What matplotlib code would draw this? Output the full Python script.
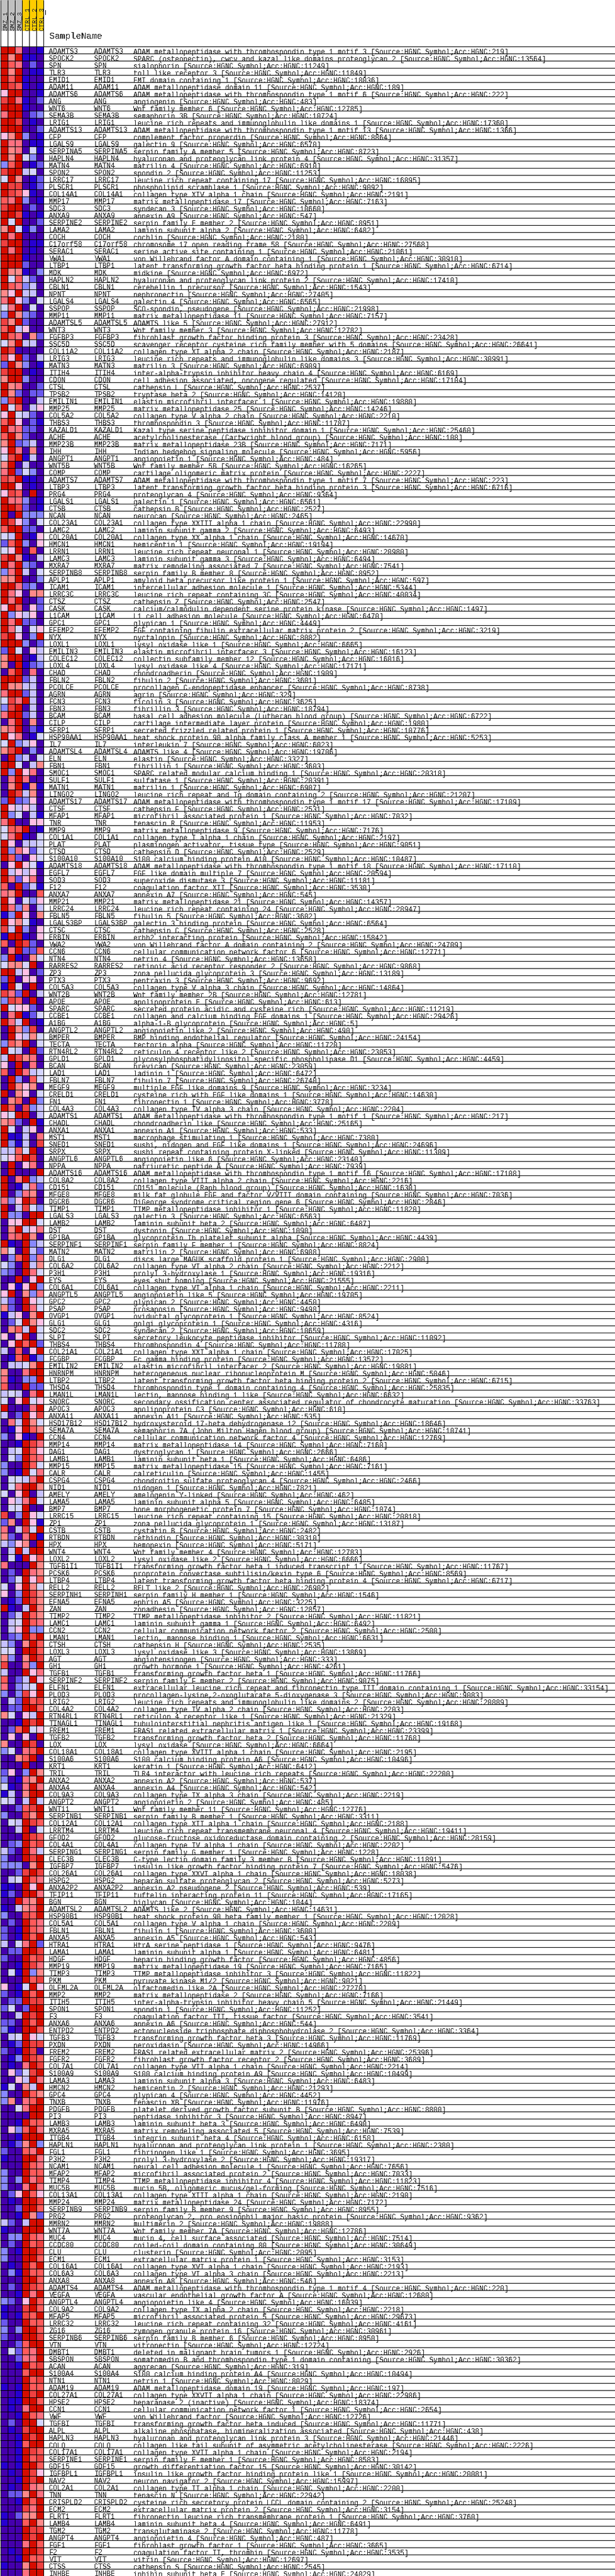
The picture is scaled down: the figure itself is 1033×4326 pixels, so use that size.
import numpy as np
import matplotlib
matplotlib.use("Agg")
import matplotlib.pyplot as plt
from matplotlib.colors import ListedColormap

samples = ["SMZ_1", "SMZ_2", "SMZ_3", "CTRL_1", "CTRL_2", "CTRL_3"]
sample_colors = ["#c0c0c0", "#c0c0c0", "#c0c0c0", "#ffcc00", "#ffcc00", "#ffcc00"]
palette = ["#4500ad", "#2700d1", "#6b58ef", "#8888ff", "#c7c1ff", "#d5d5ff",
           "#ffc0e5", "#ff8989", "#ff7080", "#ff5a5a", "#ef4040", "#d60c00"]

genes = """ADAMTS3 SPOCK2 SPN TLR3 EMID1 ADAM11 ADAMTS6 ANG WNT6 SEMA3B LRIG1 ADAMTS13 CFP LGALS9 SERPINA5 HAPLN4 MATN4 SPON2 LRRC17 PLSCR1 COL14A1 MMP17 SDC3 ANXA9 SERPINE2 LAMA2
COCH C17orf58 SERAC1 VWA1 LTBP1 MDK HAPLN2 CBLN1 NPNT LGALS4 SSPOP MMP11 ADAMTSL5 WNT3 FGFBP3 SSC5D COL11A2 LRIG3 MATN3 ITIH4 CDON CTSL TPSB2 EMILIN1 MMP25 COL5A2 THBS3 KAZALD1 ACHE MMP23B IHH ANGPT1 WNT5B COMP ADAMTS7
LTBP3 PRG4 LGALS1 CTSB NCAN COL23A1 LAMC2 COL20A1 HMCN1 LRRN1 LAMC3 MXRA7 SERPINB8 APLP1 ICAM1 LRRC3C CTSZ CASK L1CAM GPC1 EFEMP2 NYX LOXL1 EMILIN3 COLEC12 LOXL4 CHAD FBLN2 PCOLCE AGRN FCN3 FBN3 BCAM CILP SFRP1 HSP90AA1 IL7
ADAMTSL4 ELN FBN1 SMOC1 SULF1 MATN1 LINGO2 ADAMTS17 CTSF MFAP1 TNR MMP9 COL1A1 PLAT CTSD S100A10 ADAMTS18 EGFL7 SOD3 F12 ANXA7 MMP21 LRRC24 FBLN5 LGALS3BP CTSC ERBIN VWA2 CCN6 NTN4 RARRES2 ZP3 PTX3 COL5A3 WNT2B APOE
SPARC CCBE1 A1BG ANGPTL2 BMPER TECTA RTN4RL2 GPLD1 BCAN LAD1 FBLN7 MEGF9 CRELD1 FN1 COL4A3 ADAMTS1 CHADL ANXA1 MST1 SNED1 SRPX ANGPTL6 NPPA ADAMTS16 COL8A2 CD151 MFGE8 DGCR6 TIMP1 LGALS3 LAMB2 DST GP1BA SERPINF1 MATN2 DLG1 COL6A2
P3H1 EYS COL6A1 ANGPTL5 GPC2 PSAP OVGP1 GLG1 SDC2 SLPI THBS4 COL21A1 FCGBP EMILIN2 HNRNPM LTBP2 THSD4 LMAN1L SNORC APOC3 ANXA11 HSD17B12 SEMA7A CCN4 MMP14 DAG1 LAMB1 MMP15 CALR CSPG4 NID1 AMELY LAMA5 BMP7 LRRC15 ZP1
CSTB RTBDN HPX WNT4 LOXL2 TGFB1I1 PCSK6 LTBP4 RELL2 SERPINH1 EFNA5 ZAN TIMP2 LAMC1 CCN2 LMAN1 CTSH LOXL3 AGT GH1 TGFB1 SERPINF2 ELFN1 PLOD3 LRIG2 COL4A2 RTN4RL1 TINAGL1 FREM1 TGFB2 LOX COL18A1 S100A6 KRT1 TRIL ANXA2 ANXA4
COL9A3 ANGPT2 WNT11 SERPINB1 COL12A1 LRRTM4 GFOD2 COL4A1 SERPING1 CLEC3B IGFBP7 COL26A1 HSPG2 ANXA2P2 TFIP11 BGN ADAMTSL2 HSP90B1 COL5A1 FBLN1 ANXA5 HTRA1 LAMA1 HDGF MMP19 TIMP3 PKM OLFML2A MMP2 ITIH5 SPON1 F3 ANXA6 ENTPD2 TGFB3 PXDN
FREM2 FGFR2 COL7A1 S100A9 LAMA3 HMCN2 GPC4 TNXB PDGFB PI3 LAMB3 MXRA5 ITGB4 HAPLN1 FGL1 P3H2 NCAM1 MFAP2 TIMP4 MUC5B COL13A1 MMP24 SERPINB9 PRG2 MMRN2 WNT7A MUC4 CCDC80 CLU ECM1 COL16A1 COL6A3 ANXA8 ADAMTS4 VEGFA ANGPTL4 COL9A2
MFAP5 LRRC32 ZG16 SERPINB6 VTN DMBT1 SBSPON ACAN S100A4 NTN1 ADAM19 COL27A1 HPSE2 CCN1 VWF TGFBI ALPL HAPLN3 COLQ COL17A1 SERPINE1 GDF15 IGFBPL1 NAV2 COL2A1 TNN CRISPLD2 ECM2 FLRT1 LAMB4 TGM2 ANGPT4 FGF1 F2 VIT CTSS INHBE""".split()

hgnc_ids = """219 13564 11249 11849 18036 189 222 483 12785 10724 17360 1366 8864 6570 8723 31357 6910 11253 16895 9092 2191 7163 10660 547 8951 6482
2180 27568 21061 30910 6714 6972 17410 1543 27405 6565 21998 7157 27912 12782 23428 26641 2187 30991 6909 6169 17104 2537 14120 19880 14246 2210 11787 25460 108 7171 5956 484 16265 2227 223
6716 9364 6561 2527 2465 22990 6493 14670 19194 20980 6494 7541 8952 597 5344 40034 2547 1497 6470 4449 3219 8082 6665 16123 16016 17171 1909 3601 8738 329 3625 18794 6722 1980 10776 5253 6023
19706 3327 3603 20318 20391 6907 21207 17109 2531 7032 11953 7176 2197 9051 2529 10487 17110 20594 11181 3530 545 14357 28947 3602 6564 2528 15842 24709 12771 13658 9868 13189 9692 14864 12781 613
11219 29426 5 490 24154 11720 23053 4459 23059 6472 26740 3234 14630 3778 2204 217 25165 533 7380 24696 11309 23140 7939 17108 2216 1630 7036 2846 11820 6563 6487 1090 4439 8824 6908 2900 2212
19316 21555 2211 19705 4450 9498 8524 4316 10659 11092 11788 17025 13572 19881 5046 6715 25835 6632 33763 610 535 18646 10741 12769 7160 2666 6486 7161 1455 2466 7821 462 6485 1074 20818 13187
2482 30310 5171 12783 6666 11767 8569 6717 26902 1546 3225 12857 11821 6492 2500 6631 2535 13869 333 4261 11766 9075 33154 9083 20889 2203 21329 19168 23399 11768 6664 2195 10496 6412 22200 537 542
2219 485 12776 3311 2188 19411 28159 2202 1228 11891 5476 18038 5273 539 17165 1044 14631 12028 2209 3600 543 9476 6481 4856 7165 11822 9021 27270 7166 21449 11252 3541 544 3364 11769 14966
25396 3689 2214 10499 6483 21293 4452 11976 8800 8947 6490 7539 6158 2380 3695 19317 7656 7033 11823 7516 2190 7172 8955 9362 19888 12786 7514 30649 2095 3153 2193 2213 546 220 12680 16039 2218
29673 4161 30961 8950 12724 2926 30362 319 10494 8029 197 22986 18374 2654 12726 11771 438 21446 2226 2194 8583 30142 20081 15997 2200 22942 25248 3154 3760 6491 11778 487 3665 3535 12697 2545 24029""".split()

descriptions = [
    "ADAM metallopeptidase with thrombospondin type 1 motif 3", "SPARC (osteonectin), cwcv and kazal like domains proteoglycan 2",
    "sialophorin", "toll like receptor 3", "EMI domain containing 1", "ADAM metallopeptidase domain 11",
    "ADAM metallopeptidase with thrombospondin type 1 motif 6", "angiogenin", "Wnt family member 6", "semaphorin 3B",
    "leucine rich repeats and immunoglobulin like domains 1", "ADAM metallopeptidase with thrombospondin type 1 motif 13",
    "complement factor properdin", "galectin 9", "serpin family A member 5", "hyaluronan and proteoglycan link protein 4",
    "matrilin 4", "spondin 2", "leucine rich repeat containing 17", "phospholipid scramblase 1", "collagen type XIV alpha 1 chain",
    "matrix metallopeptidase 17", "syndecan 3", "annexin A9", "serpin family E member 2", "laminin subunit alpha 2",

    "cochlin", "chromosome 17 open reading frame 58", "serine active site containing 1", "von Willebrand factor A domain containing 1",
    "latent transforming growth factor beta binding protein 1", "midkine", "hyaluronan and proteoglycan link protein 2",
    "cerebellin 1 precursor", "nephronectin", "galectin 4", "SCO-spondin, pseudogene", "matrix metallopeptidase 11", "ADAMTS like 5",
    "Wnt family member 3", "fibroblast growth factor binding protein 3", "scavenger receptor cysteine rich family member with 5 domains",
    "collagen type XI alpha 2 chain", "leucine rich repeats and immunoglobulin like domains 3", "matrilin 3",
    "inter-alpha-trypsin inhibitor heavy chain 4", "cell adhesion associated, oncogene regulated", "cathepsin L", "tryptase beta 2",
    "elastin microfibril interfacer 1", "matrix metallopeptidase 25", "collagen type V alpha 2 chain", "thrombospondin 3",
    "Kazal type serine peptidase inhibitor domain 1", "acetylcholinesterase (Cartwright blood group)", "matrix metallopeptidase 23B",
    "Indian hedgehog signaling molecule", "angiopoietin 1", "Wnt family member 5B", "cartilage oligomeric matrix protein",
    "ADAM metallopeptidase with thrombospondin type 1 motif 7",

    "latent transforming growth factor beta binding protein 3", "proteoglycan 4", "galectin 1", "cathepsin B", "neurocan",
    "collagen type XXIII alpha 1 chain", "laminin subunit gamma 2", "collagen type XX alpha 1 chain", "hemicentin 1",
    "leucine rich repeat neuronal 1", "laminin subunit gamma 3", "matrix remodeling associated 7", "serpin family B member 8",
    "amyloid beta precursor like protein 1", "intercellular adhesion molecule 1", "leucine rich repeat containing 3C", "cathepsin Z",
    "calcium/calmodulin dependent serine protein kinase", "L1 cell adhesion molecule", "glypican 1",
    "EGF containing fibulin extracellular matrix protein 2", "nyctalopin", "lysyl oxidase like 1", "elastin microfibril interfacer 3",
    "collectin subfamily member 12", "lysyl oxidase like 4", "chondroadherin", "fibulin 2", "procollagen C-endopeptidase enhancer",
    "agrin", "ficolin 3", "fibrillin 3", "basal cell adhesion molecule (Lutheran blood group)", "cartilage intermediate layer protein",
    "secreted frizzled related protein 1", "heat shock protein 90 alpha family class A member 1", "interleukin 7",

    "ADAMTS like 4", "elastin", "fibrillin 1", "SPARC related modular calcium binding 1", "sulfatase 1", "matrilin 1",
    "leucine rich repeat and Ig domain containing 2", "ADAM metallopeptidase with thrombospondin type 1 motif 17", "cathepsin F",
    "microfibril associated protein 1", "tenascin R", "matrix metallopeptidase 9", "collagen type I alpha 1 chain",
    "plasminogen activator, tissue type", "cathepsin D", "S100 calcium binding protein A10",
    "ADAM metallopeptidase with thrombospondin type 1 motif 18", "EGF like domain multiple 7", "superoxide dismutase 3",
    "coagulation factor XII", "annexin A7", "matrix metallopeptidase 21", "leucine rich repeat containing 24", "fibulin 5",
    "galectin 3 binding protein", "cathepsin C", "erbb2 interacting protein", "von Willebrand factor A domain containing 2",
    "cellular communication network factor 6", "netrin 4", "retinoic acid receptor responder 2", "zona pellucida glycoprotein 3",
    "pentraxin 3", "collagen type V alpha 3 chain", "Wnt family member 2B", "apolipoprotein E",

    "secreted protein acidic and cysteine rich", "collagen and calcium binding EGF domains 1", "alpha-1-B glycoprotein",
    "angiopoietin like 2", "BMP binding endothelial regulator", "tectorin alpha", "reticulon 4 receptor like 2",
    "glycosylphosphatidylinositol specific phospholipase D1", "brevican", "ladinin 1", "fibulin 7", "multiple EGF like domains 9",
    "cysteine rich with EGF like domains 1", "fibronectin 1", "collagen type IV alpha 3 chain",
    "ADAM metallopeptidase with thrombospondin type 1 motif 1", "chondroadherin like", "annexin A1", "macrophage stimulating 1",
    "sushi, nidogen and EGF like domains 1", "sushi repeat containing protein X-linked", "angiopoietin like 6", "natriuretic peptide A",
    "ADAM metallopeptidase with thrombospondin type 1 motif 16", "collagen type VIII alpha 2 chain", "CD151 molecule (Raph blood group)",
    "milk fat globule EGF and factor V/VIII domain containing", "DiGeorge syndrome critical region gene 6",
    "TIMP metallopeptidase inhibitor 1", "galectin 3", "laminin subunit beta 2", "dystonin", "glycoprotein Ib platelet subunit alpha",
    "serpin family F member 1", "matrilin 2", "discs large MAGUK scaffold protein 1", "collagen type VI alpha 2 chain",

    "prolyl 3-hydroxylase 1", "eyes shut homolog", "collagen type VI alpha 1 chain", "angiopoietin like 5", "glypican 2", "prosaposin",
    "oviductal glycoprotein 1", "golgi glycoprotein 1", "syndecan 2", "secretory leukocyte peptidase inhibitor", "thrombospondin 4",
    "collagen type XXI alpha 1 chain", "Fc gamma binding protein", "elastin microfibril interfacer 2",
    "heterogeneous nuclear ribonucleoprotein M", "latent transforming growth factor beta binding protein 2",
    "thrombospondin type 1 domain containing 4", "lectin, mannose binding 1 like",
    "secondary ossification center associated regulator of chondrocyte maturation", "apolipoprotein C3", "annexin A11",
    "hydroxysteroid 17-beta dehydrogenase 12", "semaphorin 7A (John Milton Hagen blood group)",
    "cellular communication network factor 4", "matrix metallopeptidase 14", "dystroglycan 1", "laminin subunit beta 1",
    "matrix metallopeptidase 15", "calreticulin", "chondroitin sulfate proteoglycan 4", "nidogen 1", "amelogenin Y-linked",
    "laminin subunit alpha 5", "bone morphogenetic protein 7", "leucine rich repeat containing 15", "zona pellucida glycoprotein 1",

    "cystatin B", "retbindin", "hemopexin", "Wnt family member 4", "lysyl oxidase like 2", "transforming growth factor beta 1 induced transcript 1",
    "proprotein convertase subtilisin/kexin type 6", "latent transforming growth factor beta binding protein 4", "RELT like 2",
    "serpin family H member 1", "ephrin A5", "zonadhesin", "TIMP metallopeptidase inhibitor 2", "laminin subunit gamma 1",
    "cellular communication network factor 2", "lectin, mannose binding 1", "cathepsin H", "lysyl oxidase like 3", "angiotensinogen",
    "growth hormone 1", "transforming growth factor beta 1", "serpin family F member 2",
    "extracellular leucine rich repeat and fibronectin type III domain containing 1",
    "procollagen-lysine,2-oxoglutarate 5-dioxygenase 3", "leucine rich repeats and immunoglobulin like domains 2",
    "collagen type IV alpha 2 chain", "reticulon 4 receptor like 1", "tubulointerstitial nephritis antigen like 1",
    "FRAS1 related extracellular matrix 1", "transforming growth factor beta 2", "lysyl oxidase", "collagen type XVIII alpha 1 chain",
    "S100 calcium binding protein A6", "keratin 1", "TLR4 interactor with leucine rich repeats", "annexin A2", "annexin A4",

    "collagen type IX alpha 3 chain", "angiopoietin 2", "Wnt family member 11", "serpin family B member 1", "collagen type XII alpha 1 chain",
    "leucine rich repeat transmembrane neuronal 4", "glucose-fructose oxidoreductase domain containing 2", "collagen type IV alpha 1 chain",
    "serpin family G member 1", "C-type lectin domain family 3 member B", "insulin like growth factor binding protein 7",
    "collagen type XXVI alpha 1 chain", "heparan sulfate proteoglycan 2", "annexin A2 pseudogene 2", "tuftelin interacting protein 11",
    "biglycan", "ADAMTS like 2", "heat shock protein 90 beta family member 1", "collagen type V alpha 1 chain", "fibulin 1", "annexin A5",
    "HtrA serine peptidase 1", "laminin subunit alpha 1", "heparin binding growth factor", "matrix metallopeptidase 19",
    "TIMP metallopeptidase inhibitor 3", "pyruvate kinase M1/2", "olfactomedin like 2A", "matrix metallopeptidase 2",
    "inter-alpha-trypsin inhibitor heavy chain 5", "spondin 1", "coagulation factor III, tissue factor", "annexin A6",
    "ectonucleoside triphosphate diphosphohydrolase 2", "transforming growth factor beta 3", "peroxidasin",

    "FRAS1 related extracellular matrix 2", "fibroblast growth factor receptor 2", "collagen type VII alpha 1 chain",
    "S100 calcium binding protein A9", "laminin subunit alpha 3", "hemicentin 2", "glypican 4", "tenascin XB",
    "platelet derived growth factor subunit B", "peptidase inhibitor 3", "laminin subunit beta 3", "matrix remodeling associated 5",
    "integrin subunit beta 4", "hyaluronan and proteoglycan link protein 1", "fibrinogen like 1", "prolyl 3-hydroxylase 2",
    "neural cell adhesion molecule 1", "microfibril associated protein 2", "TIMP metallopeptidase inhibitor 4",
    "mucin 5B, oligomeric mucus/gel-forming", "collagen type XIII alpha 1 chain", "matrix metallopeptidase 24", "serpin family B member 9",
    "proteoglycan 2, pro eosinophil major basic protein", "multimerin 2", "Wnt family member 7A", "mucin 4, cell surface associated",
    "coiled-coil domain containing 80", "clusterin", "extracellular matrix protein 1", "collagen type XVI alpha 1 chain",
    "collagen type VI alpha 3 chain", "annexin A8", "ADAM metallopeptidase with thrombospondin type 1 motif 4",
    "vascular endothelial growth factor A", "angiopoietin like 4", "collagen type IX alpha 2 chain",

    "microfibril associated protein 5", "leucine rich repeat containing 32", "zymogen granule protein 16", "serpin family B member 6",
    "vitronectin", "deleted in malignant brain tumors 1", "somatomedin B and thrombospondin type 1 domain containing", "aggrecan",
    "S100 calcium binding protein A4", "netrin 1", "ADAM metallopeptidase domain 19", "collagen type XXVII alpha 1 chain",
    "heparanase 2 (inactive)", "cellular communication network factor 1", "von Willebrand factor",
    "transforming growth factor beta induced", "alkaline phosphatase, biomineralization associated",
    "hyaluronan and proteoglycan link protein 3", "collagen like tail subunit of asymmetric acetylcholinesterase",
    "collagen type XVII alpha 1 chain", "serpin family E member 1", "growth differentiation factor 15",
    "insulin like growth factor binding protein like 1", "neuron navigator 2", "collagen type II alpha 1 chain", "tenascin N",
    "cysteine rich secretory protein LCCL domain containing 2", "extracellular matrix protein 2",
    "fibronectin leucine rich transmembrane protein 1", "laminin subunit beta 4", "transglutaminase 2", "angiopoietin 4",
    "fibroblast growth factor 1", "coagulation factor II, thrombin", "vitrin", "cathepsin S", "inhibin subunit beta E",
]

# one word per gene, one base-12 digit per sample (index into palette)
levels = """bb8001 b7b110 b98020 b7b011 b9b100 ba9101 6bb001 ab8102 bbb100 8bb023 bba010 bbb002 67b301 b88011 b78051 b7b530 39b012 abb450 5b7012 baa012 ba9610 98b301 abb020 bba101 b5b002 7b5130
b8b000 abb011 b8b010 bbb100 bbb200 b77103 b59420 b98340 76b440 8b6305 58b050 3b7320 a7b200 9b4600 b98072 57b440 ba0000 a6b204 2b7301 abb010 7bb300 b78002 b72022 3ab004 b59046 6b5420 9b6021 b88220 9b7200 7b2340 6b8070 5ab140 7b0400 8b2530 a9b110
bb6010 6a90b0 b88301 bba201 b0b333 ba6305 9bb220 54b016 29b306 56b090 ab7104 b8b320 38b405 77b003 bb8230 b86077 b8b002 6b9062 b36460 b8b220 b85056 ab603b bbb302 2b5064 7bb014 70b123 09b080 bbb240 b77440 8bb240 5a8b40 3ab040 8bb240 08b070 78b021 b68015 5b3460
7ab030 0b3405 bb5047 b3b680 08b800 07b171 0ba470 2b2360 b64640 b35041 8b0066 599b01 58b105 b60445 b38625 b92065 06b651 b46460 b82680 90b241 87b009 b60536 b83704 13b607 b67510 a4b306 1bb106 90ba20 08b229 3b1075 5775b0 bb4602 2b0660 1b50b0 a82b04 3a90b0
b56620 08b125 b84b01 0b73a0 0b6475 397b05 b540b2 4ba780 60b080 90b845 0b3095 0b7670 b07605 0790b3 b90a34 65bb04 7820b1 b50460 b11408 b3140a 4495b0 569ba0 0b0680 0b000b b08b34 b01482 b03870 836ba0 b04a53 b330bb 066bb5 07b468 089b70 b10b34 750b42 039b38 530b47
320b85 00b06b 0616b3 6b0738 420b65 720b85 14607b 025b76 0794b5 606b05 06b9b2 40906b 019b13 04457b 7008bb 81033b 900b22 45408b 506b56 b0008b 402b6a 084b75 016b97 30610b 001ba8 045b96 053b98 300b95 301b58 05548b 058bb7 506b04 0648b5 055b00 a03b65 270b61
804a5b 7208b1 43670b 04b4bb 051b69 8000b7 020b87 025b69 506b75 603ba7 012ba7 b104b7 024b97 045b98 046b33 023b9b 4307b9 550bb9 7307ba a0083b 400b68 9024b6 80345b 303a6b 042b9a 022bb9 75064b 001bab 029b56 06060b 700ba0 35089b 0079b0 000b00 2603b7 30187b 5108b8
1407bb 5404b4 0029ab 300a7b 054ba9 004b05 000ba9 023b9a 420b84 300bab 33307b 002aba 045b98 110b6b 120bb8 00b87b 10478b 300a9b 020b98 201b98 201b9b 4058b2 022bba 200b9a 001ba8 051b37 000b9a 6015b6 201b9b 022baa 2502bb 004bab 220b9b 310bb9 045b65 012baa
201ba0 013ba9 0108ba 0625ab 0064b8 15074b 300b97 37089b 0058bb 0000bb 001b99 0639b8 001bbb 0127b3 20098b 100bb8 000b98 300b99 303b8a 3008b8 026b96 010bba 002bb9 001b72 4204bb 100bbb 033b98 020b9a 301bba 300bb9 010b9b 031b99 000bb9 020ba9 001b8b 3206b9 100ab9
101a9b 200b99 303bb9 200bba 0029bb 05298b 00288b 001b9a 0009bb 000b9a 101b99 001bab 011bb9 0108bb 001b98 020bb5 010abb 001bab 0019bb 001ba9 001b9a 101bb9 010ba6 001bab 010b87 0227b8 001b9b 000a8b 10277b 1009b7 000baa 000bab 0008b9 010bba 001b99 1007ba 0008bb""".split()
cells = np.array([[int(c, 12) for c in row] for row in levels])

assert len(genes) == len(hgnc_ids) == len(descriptions) == len(cells)

W, H = 1033, 4326
top = 77
row_h = 12
col_w = 12
n = len(genes)
mono = "Liberation Mono"
px = 72 / 100

plt.rcParams["text.antialiased"] = False

fig = plt.figure(figsize=(W / 100, H / 100), dpi=100)
ax = fig.add_axes([0, 0, 1, 1])
ax.set_xlim(0, W)
ax.set_ylim(H, 0)
ax.axis("off")

x_edges = np.arange(7) * col_w + 0.5
y_edges = top + np.arange(n + 1) * row_h + 0.5
ax.pcolormesh(x_edges, y_edges, cells, cmap=ListedColormap(palette), vmin=-0.5, vmax=11.5, zorder=1)

# header block with rotated sample names
for j, name in enumerate(samples):
    ax.fill_between([x_edges[j], x_edges[j + 1]], 0, 52, color=sample_colors[j], lw=0, zorder=1)
    ax.text(x_edges[j] + 11.5, 51, name, rotation=90, ha="left", va="baseline", rotation_mode="anchor",
            family=mono, fontsize=10.8 * px, color="#333333", zorder=3)
ax.plot([75.5, 75.5], [17, 24], color="black", lw=px, zorder=3)
ax.text(83, 65, "SampleName", family=mono, fontsize=14.7 * px, color="#222222", va="baseline", zorder=3)

# row labels sit a little below the row rule, which cuts their feet
for i in range(n):
    base = top + (i + 1) * row_h + 1.5
    ax.text(82.5, base, genes[i], family=mono, fontsize=11.7 * px, color="#222222", va="baseline", zorder=2)
    ax.text(158.5, base, genes[i], family=mono, fontsize=11.7 * px, color="#222222", va="baseline", zorder=2)
    ax.text(224.5, base, f"{descriptions[i]} [Source:HGNC Symbol;Acc:HGNC:{hgnc_ids[i]}]",
            family=mono, fontsize=11.7 * px, color="#222222", va="baseline", zorder=2)

ax.hlines(y_edges, 0, W, color="black", lw=px, zorder=4)
ax.vlines(x_edges, 0, y_edges[-1], color="black", lw=px, zorder=4)

fig.savefig("out.png", dpi=100)
